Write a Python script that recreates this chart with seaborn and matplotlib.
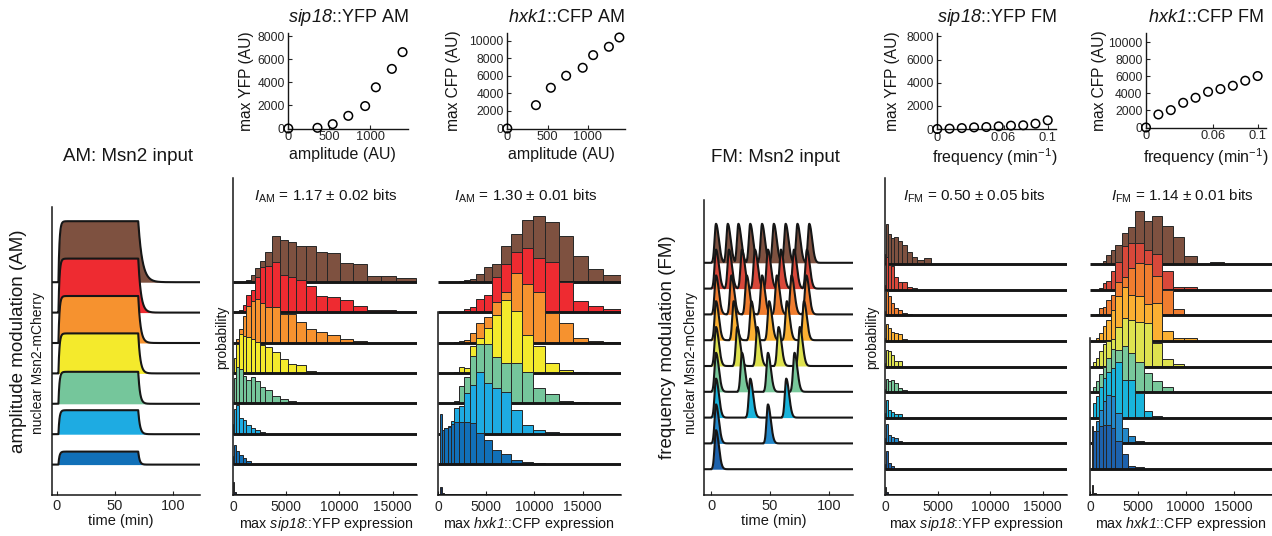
import numpy as np
import pandas as pd
import matplotlib
matplotlib.use('Agg')
import matplotlib.pyplot as plt
import seaborn as sns

sns.set_style('ticks')
plt.rcParams['font.family'] = ['Liberation Sans', 'DejaVu Sans']
plt.rcParams['mathtext.fontset'] = 'custom'
plt.rcParams['mathtext.rm'] = 'Liberation Sans'
plt.rcParams['mathtext.it'] = 'Liberation Sans:italic'
plt.rcParams['mathtext.sf'] = 'Liberation Sans:italic'
plt.rcParams['mathtext.bf'] = 'Liberation Sans:bold'

# ---- top scatter panels ----
am_amplitude = [0, 355, 540, 730, 935, 1065, 1260, 1390]
am_max_yfp = [0, 60, 380, 1100, 1950, 3580, 5180, 6640]
am_max_cfp = [0, 2660, 4640, 6010, 6920, 8360, 9310, 10370]
fm_frequency = [0, 0.0111, 0.0222, 0.0333, 0.0444, 0.0556, 0.0667, 0.0778, 0.0889, 0.1]
fm_max_yfp = [0, 30, 80, 140, 170, 230, 290, 320, 460, 750]
fm_max_cfp = [0, 1530, 2040, 2900, 3490, 4190, 4510, 4900, 5490, 6040]

# ---- Msn2 inputs (bottom row to top row) ----
am_colors = ['#1170b8', '#1eabe2', '#75c69b', '#f4ea2c', '#f6922f', '#ee2b31', '#7e5140']
am_input_level = [13, 24, 32, 40, 47, 54, 61]
am_on, am_off = 1.5, 70
am_decay = [1.2, 1.5, 1.5, 1.8, 2.0, 2.3, 3.5]

fm_colors = ['#1d62ad', '#2388ca', '#19b4dc', '#78c89b', '#dee24f', '#fbb032', '#f07d2f', '#d8483a', '#7e5140']
fm_pulse_onsets = [
    [1],
    [1, 45],
    [1, 30, 60.5],
    [1, 23, 45, 67.5],
    [1, 19, 36, 54, 72],
    [1, 16, 31, 46, 61, 75.5],
    [1, 14, 27, 40, 52.5, 65, 77.5],
    [1, 12, 23, 34, 45, 56, 67, 78],
    [1, 11, 20, 30, 40, 50, 60, 70, 80],
]
fm_pulse_height = 39

# ---- output histograms (row 0 = no input, then bottom to top) ----
zero_color = '#1b2a4e'
yfp_edges = [0, 120, 300, 600, 900, 1220, 1650, 2060, 2530, 3030, 3690, 4380, 5130,
             5970, 6840, 7780, 8840, 10030, 11280, 12630, 13940, 15340, 17220]
cfp_edges = [0, 170, 350, 630, 980, 1320, 1670, 2170, 2660, 3300, 3950, 4730, 5600,
             6520, 7530, 8660, 9860, 11130, 12520, 14000, 15540, 17150, 19000]

am_yfp_hist = [
    [13, 3, 0, 0, 0, 0, 0, 0, 0, 0, 0, 0, 0, 0, 0, 0, 0, 0, 0, 0, 0, 0],
    [8, 19, 13.3, 9.3, 6, 2.7, 0, 0, 0, 0, 0, 0, 0, 0, 0, 0, 0, 0, 0, 0, 0, 0],
    [10, 25, 28.3, 15.7, 14, 9, 5.7, 3.3, 1.3, 0, 0, 0, 0, 0, 0, 0, 0, 0, 0, 0, 0, 0],
    [0, 25, 36, 34.3, 27.7, 23.7, 26, 22.7, 16.7, 13.3, 7.7, 4.3, 2.7, 0, 0, 0, 0, 0, 0, 0, 0, 0],
    [0, 15, 29.3, 38.7, 37, 36, 34.3, 31, 27.7, 26, 21, 14.3, 9.3, 7.7, 2, 0, 0, 0, 0, 0, 0, 0],
    [0, 0, 3.3, 13.3, 26.7, 36.7, 41.7, 44, 40, 36, 36, 29, 29, 20.7, 14, 10.7, 8, 4, 1.3, 0, 0, 0],
    [0, 0, 0, 2.3, 7.3, 17.3, 22.3, 35.7, 45.7, 46.3, 50, 37.3, 35.7, 32.3, 26.3, 16.3, 15.7, 12.3, 6.3, 2.3, 2.3, 0],
    [0, 0, 0, 0, 0, 1.7, 7.3, 14.3, 20.7, 30, 45.7, 42.3, 40, 36, 36, 30, 29, 19, 18.3, 6, 6, 4.3],
]
am_cfp_hist = [
    [0, 8, 2, 0, 0, 0, 0, 0, 0, 0, 0, 0, 0, 0, 0, 0, 0, 0, 0, 0, 0, 0],
    [0, 50, 34, 35.7, 37.3, 40, 42, 42, 42, 40.7, 31.3, 24, 14, 9.7, 4, 2.3, 0.7, 0, 0, 0, 0, 0],
    [0, 0, 4, 6, 8, 13, 25.7, 27.3, 40.7, 49, 61.3, 50.7, 45.7, 41.3, 23.3, 9, 3.3, 1.7, 0, 0, 0, 0],
    [0, 0, 0, 0, 0, 0, 2.7, 17.3, 26.7, 47.6, 59, 59, 46.6, 40, 40, 31.6, 15, 9.3, 2.7, 1.7, 0, 0],
    [0, 0, 0, 0, 0, 0, 0.7, 5.7, 5, 27.3, 34.7, 44.7, 58, 73.3, 62, 38.3, 27.3, 10, 3.3, 1.3, 0, 0],
    [0, 0, 0, 0, 0, 0, 0.7, 1.7, 2.7, 9.3, 20, 25.7, 41, 51, 70, 59, 50.7, 30, 19.3, 5, 1.7, 0.7],
    [0, 0, 0, 0, 0, 0, 0, 0, 3, 5, 13, 17.3, 35.7, 48, 60, 64, 54, 50, 30, 11.7, 6.7, 3],
    [0, 0, 0, 0, 0, 0, 0, 1.3, 2, 3.3, 8, 15.3, 18, 35.7, 48, 62.3, 65.7, 60, 46, 25.7, 13, 6.7],
]
fm_yfp_hist = [
    [8, 3, 0, 0, 0, 0, 0, 0, 0, 0, 0, 0, 0, 0, 0, 0, 0, 0, 0, 0, 0, 0],
    [5, 17.7, 6, 3.3, 0, 0, 0, 0, 0, 0, 0, 0, 0, 0, 0, 0, 0, 0, 0, 0, 0, 0],
    [5, 19, 8, 6.7, 5, 2.3, 0, 0, 0, 0, 0, 0, 0, 0, 0, 0, 0, 0, 0, 0, 0, 0],
    [5, 18, 7.3, 6, 4, 3.3, 0, 0, 0, 0, 0, 0, 0, 0, 0, 0, 0, 0, 0, 0, 0, 0],
    [3, 13, 10.7, 12.3, 9, 4, 1.7, 0, 0, 0, 0, 0, 0, 0, 0, 0, 0, 0, 0, 0, 0, 0],
    [3, 16.7, 15, 11.7, 5, 5, 0, 0, 0, 0, 0, 0, 0, 0, 0, 0, 0, 0, 0, 0, 0, 0],
    [3, 17, 12.7, 9.3, 8.3, 6.7, 1.7, 0, 0, 0, 0, 0, 0, 0, 0, 0, 0, 0, 0, 0, 0, 0],
    [4, 24, 19, 12, 7.7, 5, 2.7, 1.7, 0, 0, 0, 0, 0, 0, 0, 0, 0, 0, 0, 0, 0, 0],
    [5, 32.7, 25, 23.3, 12.7, 7.3, 7.3, 2.7, 1.7, 0, 0, 0, 0, 0, 0, 0, 0, 0, 0, 0, 0, 0],
    [10, 40, 30, 25.7, 26.7, 23.3, 19, 12.3, 6.7, 4, 5.7, 0, 0, 0, 0, 0, 0, 0, 0, 0, 0, 0],
]
fm_cfp_hist = [
    [0, 10, 2, 0, 0, 0, 0, 0, 0, 0, 0, 0, 0, 0, 0, 0, 0, 0, 0, 0, 0, 0],
    [0, 43, 37.7, 38.3, 42.7, 44.3, 44.3, 41, 27.7, 15, 3.3, 1.7, 0, 0, 0, 0, 0, 0, 0, 0, 0, 0],
    [0, 0, 12, 22, 33, 42, 48, 47, 30, 15.7, 7.3, 2.3, 0, 0, 0, 0, 0, 0, 0, 0, 0, 0],
    [0, 0, 14.7, 21.3, 31, 39.7, 46, 49.7, 56, 38, 38, 24.7, 6.3, 2, 0, 0, 0, 0, 0, 0, 0, 0],
    [0, 0, 5.3, 10.7, 18, 25, 34, 43, 42, 46, 38.7, 30, 19, 10.7, 5, 0, 0, 0, 0, 0, 0, 0],
    [0, 0, 4.7, 8.7, 15, 22, 25, 27, 39.3, 48, 46, 44.7, 43.7, 23.7, 7, 2.7, 0, 0, 0, 0, 0, 0],
    [0, 0, 0, 2.7, 7.7, 15.3, 21, 31, 45.3, 54.3, 46, 45.3, 36.7, 37.7, 10, 3.3, 2.7, 0, 0, 0, 0, 0],
    [0, 0, 0, 1, 7.7, 8.7, 15.3, 20, 33.7, 38.7, 47.7, 52.7, 51.7, 39.3, 25, 6, 0, 0, 0, 0, 0, 0],
    [0, 0, 0, 0, 2, 7, 8.7, 18.7, 28, 43.7, 47, 46.3, 39.7, 35.3, 18.7, 2.7, 2.7, 0, 0, 0, 0, 0],
    [0, 0, 0, 0, 0, 3.3, 9.3, 14.3, 19.3, 31, 36.7, 52.7, 43.3, 48.3, 38.3, 26.7, 7.7, 0, 2, 0, 0, 0],
]
info_text = [r'$I_{\mathrm{AM}}$ = 1.17 ± 0.02 bits', r'$I_{\mathrm{AM}}$ = 1.30 ± 0.01 bits',
             r'$I_{\mathrm{FM}}$ = 0.50 ± 0.05 bits', r'$I_{\mathrm{FM}}$ = 1.14 ± 0.01 bits']

# ---- layout (pixel boxes: x0, y0, x1, y1) ----
W, H = 1272, 536
fig = plt.figure(figsize=(W / 100, H / 100), dpi=100)
INK = '#161616'


def px_box(x0, y0, x1, y1):
    return [x0 / W, 1 - y1 / H, (x1 - x0) / W, (y1 - y0) / H]


def ftext(x, y, s, size, **kw):
    fig.text(x / W, 1 - y / H, s, ha='center', va='center', fontsize=size, color=INK, **kw)


def style_axes(ax, lw=1.0):
    sns.despine(ax=ax)
    for s in ['left', 'bottom']:
        ax.spines[s].set_linewidth(lw)
        ax.spines[s].set_color(INK)
    ax.set_xlabel('')
    ax.set_ylabel('')


def scatter_panel(box, x, y, xlim, ylim, xticks, xlabels, yticks):
    ax = fig.add_axes(px_box(*box))
    df = pd.DataFrame({'x': x, 'y': y})
    sns.scatterplot(data=df, x='x', y='y', ax=ax, s=38, marker='o', facecolor='none',
                    edgecolor='black', linewidth=1.1, clip_on=False, zorder=5)
    ax.set_xlim(*xlim)
    ax.set_ylim(*ylim)
    ax.set_xticks(xticks)
    ax.set_xticklabels(xlabels)
    ax.set_yticks(yticks)
    style_axes(ax)
    ax.tick_params(axis='x', direction='in', length=3, width=0.8, labelsize=9.3, pad=2)
    ax.tick_params(axis='y', direction='in', length=3, width=0.8, labelsize=8.7, pad=2.5)
    return ax


def hist_panel(box, edges, rows, colors, spacing, xmax, spine_top=None):
    ax = fig.add_axes(px_box(*box))
    hpx = box[3] - box[1]
    edges = np.array(edges, float)
    widths = np.diff(edges)
    for r, (heights, c) in enumerate(zip(rows, colors)):
        base = r * spacing
        z = 100 - 5 * r
        h = np.array(heights, float)
        m = h > 0
        ax.bar(edges[:-1][m], h[m], width=widths[m], bottom=base, align='edge', color=c,
               edgecolor='#262626', linewidth=0.7, zorder=z)
        ax.plot([0, xmax], [base, base], color=INK, lw=2.1, solid_capstyle='butt', zorder=z + 1)
    ax.set_xlim(0, xmax)
    ax.set_ylim(0, hpx)
    ax.set_yticks([])
    ax.set_xticks([0, 5000, 10000, 15000])
    style_axes(ax, lw=1.1)
    if spine_top is not None:
        ax.spines['left'].set_bounds(0, spine_top)
    ax.tick_params(axis='x', direction='in', length=3, width=0.8, labelsize=10, pad=4)
    return ax


def input_axes(box, xlim):
    ax = fig.add_axes(px_box(*box))
    ax.set_xlim(*xlim)
    ax.set_ylim(0, box[3] - box[1])
    ax.set_yticks([])
    ax.set_xticks([0, 50, 100])
    style_axes(ax, lw=1.1)
    ax.tick_params(axis='x', direction='in', length=3, width=0.8, labelsize=10.5, pad=3)
    return ax


# ---- scatter panels ----
scatter_panel((288.3, 33, 408.3, 128.5), am_amplitude, am_max_yfp, (0, 1460), (0, 8300),
              [0, 500, 1000], ['0', '500', '1000'], [0, 2000, 4000, 6000, 8000])
scatter_panel((507.3, 33, 625, 128.5), am_amplitude, am_max_cfp, (0, 1460), (0, 10880),
              [0, 500, 1000], ['0', '500', '1000'], [0, 2000, 4000, 6000, 8000, 10000])
scatter_panel((937.3, 33, 1056, 129), fm_frequency, fm_max_yfp, (0, 0.1075), (0, 8300),
              [0, 0.06, 0.1], ['0', '0.06', '0.1'], [0, 2000, 4000, 6000, 8000])
scatter_panel((1146, 33, 1266, 127.5), fm_frequency, fm_max_cfp, (0, 0.1075), (0, 11090),
              [0, 0.06, 0.1], ['0', '0.06', '0.1'], [0, 2000, 4000, 6000, 8000, 10000])

ftext(348, 18, r'$\mathsf{sip18}$::YFP AM', 13)
ftext(566, 18, r'$\mathsf{hxk1}$::CFP AM', 13)
ftext(996.7, 18, r'$\mathsf{sip18}$::YFP FM', 13)
ftext(1206, 18, r'$\mathsf{hxk1}$::CFP FM', 13)
ftext(246.5, 81, 'max YFP (AU)', 11.2, rotation=90)
ftext(454, 81, 'max CFP (AU)', 11.2, rotation=90)
ftext(893, 81, 'max YFP (AU)', 11.2, rotation=90)
ftext(1099.5, 81, 'max CFP (AU)', 11.2, rotation=90)
ftext(342.5, 154, 'amplitude (AU)', 11.5)
ftext(561, 154, 'amplitude (AU)', 11.5)
ftext(994.5, 157, 'frequency (min$^{-1}$)', 11.5)
ftext(1206, 157, 'frequency (min$^{-1}$)', 11.5)

# ---- AM input ----
t = np.linspace(-6, 124, 2600)
ax = input_axes((52, 207, 200, 495), (-4, 123))
for r, (lvl, dec, c) in enumerate(zip(am_input_level, am_decay, am_colors), start=1):
    rise = lvl * (1 - np.exp(-np.clip(t - am_on, 0, None) / 0.9))
    top = lvl * (1 - np.exp(-(am_off - am_on) / 0.9))
    y = np.where(t < am_off, rise, top * np.exp(-np.clip(t - am_off, 0, None) / dec))
    base = r * 30.4
    z = 100 - 5 * r
    ax.fill_between(t, base, base + y, color=c, lw=0, zorder=z)
    ax.plot(t, base + y, color=INK, lw=1.5, zorder=z + 1)

# ---- FM input ----
ax = input_axes((704.3, 200, 852.7, 495), (-5.7, 120))
for r, (onsets, c) in enumerate(zip(fm_pulse_onsets, fm_colors), start=1):
    y = np.zeros_like(t)
    for t0 in onsets:
        tp = t0 + 3.2
        shape = np.where(t < tp, np.exp(-((t - tp) / 1.7) ** 2), np.exp(-((t - tp) / 3.4) ** 2))
        shape[t < t0 - 0.5] = 0
        y = np.maximum(y, fm_pulse_height * shape)
    base = r * 25.8
    z = 100 - 5 * r
    ax.fill_between(t, base, base + y, color=c, lw=0, zorder=z)
    ax.plot(t, base + y, color=INK, lw=1.5, zorder=z + 1)

# ---- histograms ----
hist_panel((233, 178, 417, 494.5), yfp_edges, am_yfp_hist, [zero_color] + am_colors, 30.35, 17300)
hist_panel((438.3, 178, 621, 494.5), cfp_edges, am_cfp_hist, [zero_color] + am_colors, 30.35, 19000,
           spine_top=182.5)
hist_panel((885, 178, 1067, 494.5), yfp_edges, fm_yfp_hist, [zero_color] + fm_colors, 25.6, 17300)
hist_panel((1090, 178, 1272, 494.5), cfp_edges, fm_cfp_hist, [zero_color] + fm_colors, 25.6, 19000,
           spine_top=156.5)

# ---- labels for the lower row ----
ftext(128, 156, 'AM: Msn2 input', 13.5)
ftext(775, 157, 'FM: Msn2 input', 13.5)
ftext(19, 341, 'amplitude modulation (AM)', 13.5, rotation=90)
ftext(38, 363, 'nuclear Msn2-mCherry', 10, rotation=90)
ftext(668, 347, 'frequency modulation (FM)', 13.5, rotation=90)
ftext(691, 363, 'nuclear Msn2-mCherry', 10, rotation=90)
ftext(121, 521, 'time (min)', 10.5)
ftext(774, 521, 'time (min)', 10.5)
ftext(222, 337, 'probability', 10, rotation=90)
ftext(872, 337, 'probability', 10, rotation=90)
for x, s in zip([326, 526, 974, 1182], info_text):
    ftext(x, 196, s, 11)
ftext(326, 524, r'max $\mathsf{sip18}$::YFP expression', 10.3)
ftext(529, 524, r'max $\mathsf{hxk1}$::CFP expression', 10.3)
ftext(976, 524, r'max $\mathsf{sip18}$::YFP expression', 10.3)
ftext(1181, 524, r'max $\mathsf{hxk1}$::CFP expression', 10.3)

fig.savefig('out.png', dpi=100)
